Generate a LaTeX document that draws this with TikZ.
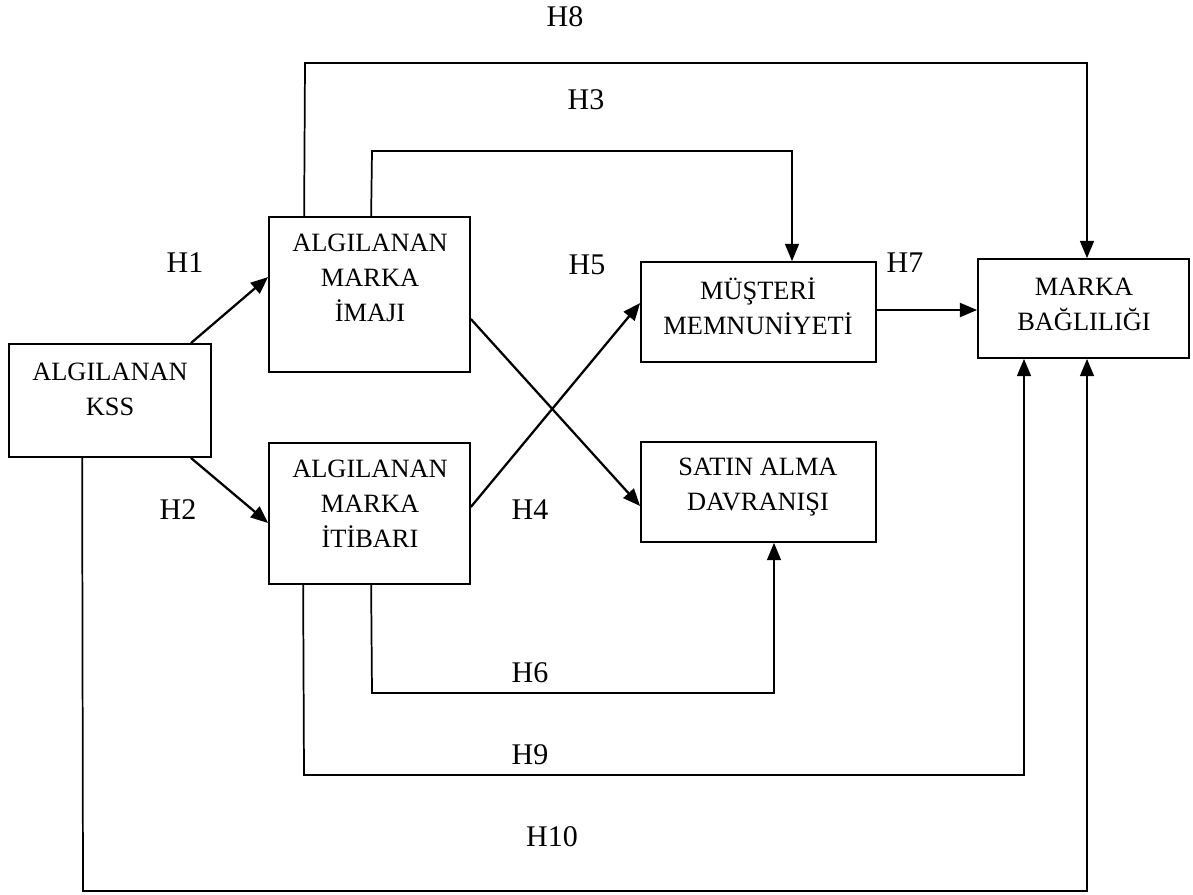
\documentclass[tikz,border=0pt]{standalone}
\usepackage{fontspec}
\setmainfont{Liberation Serif}
\usetikzlibrary{arrows.meta}
\begin{document}
\begin{tikzpicture}[x=0.75pt,y=-0.75pt,
  box/.style={draw,line width=1.3pt,inner sep=0pt},
  boxtext/.style={align=center,font=\fontsize{19.8}{26.2}\selectfont,inner sep=0pt},
  hlabel/.style={font=\fontsize{22.5}{26}\selectfont,inner sep=0pt},
  arr/.style={line width=1.7pt,-{Triangle[length=13pt,width=10.5pt]}},
  garr/.style={line width=1.3pt,-{Triangle[length=13pt,width=10.5pt]}}]
\useasboundingbox (0,0) rectangle (1193,894);

% boxes
\node[box,minimum width=151.5pt,minimum height=84.75pt] (kss) at (110,400.5) {};
\node[box,minimum width=150.75pt,minimum height=116.25pt] (imaj) at (369.5,294.5) {};
\node[box,minimum width=150.75pt,minimum height=105.75pt] (itibar) at (369.5,513.5) {};
\node[box,minimum width=176.25pt,minimum height=75pt] (must) at (758.5,312) {};
\node[box,minimum width=176.25pt,minimum height=75pt] (satin) at (758.5,492) {};
\node[box,minimum width=158.25pt,minimum height=74.25pt] (marka) at (1083.5,308.5) {};

% box texts
\node[boxtext] (kss-t) at (110,389) {ALGILANAN\\KSS};
\node[boxtext] (imaj-t) at (370,278) {ALGILANAN\\MARKA\\İMAJI};
\node[boxtext] (itibar-t) at (370,504) {ALGILANAN\\MARKA\\İTİBARI};
\node[boxtext] (must-t) at (758,306) {MÜŞTERİ\\MEMNUNİYETİ};
\node[boxtext] (satin-t) at (758,487) {SATIN ALMA\\DAVRANIŞI};
\node[boxtext] (marka-t) at (1084,304) {MARKA\\BAĞLILIĞI};

% route corners
\coordinate (h8a) at (305,63);
\coordinate (h8b) at (1087,63);
\coordinate (h3a) at (372,151);
\coordinate (h3b) at (792,151);
\coordinate (h6a) at (372,693);
\coordinate (h6b) at (774,693);
\coordinate (h9a) at (304,775);
\coordinate (h9b) at (1024,775);
\coordinate (h10a) at (83,891);
\coordinate (h10b) at (1087,891);

% direct arrows
\draw[arr] ([xshift=-15.75pt]kss.north east) -- ([yshift=13.1pt]imaj.west);
\draw[arr] ([xshift=-15.75pt]kss.south east) -- ([yshift=-7.1pt]itibar.west);
\draw[arr] ([yshift=-18.4pt]imaj.east) -- ([yshift=-10.5pt]satin.west);
\draw[arr] ([yshift=4.9pt]itibar.east) -- ([yshift=6.75pt]must.west);
\draw[arr] ([yshift=1.5pt]must.east) -- ([yshift=1.5pt]must.east -| marka.west);

% routed arrows
\draw[garr] ([xshift=27pt]imaj.north west) -- (h8a) -- (h8b) -- (h8b |- marka.north);
\draw[garr] ([xshift=77.25pt]imaj.north west) -- (h3a) -- (h3b) -- (h3b |- must.north);
\draw[garr] ([xshift=77.25pt]itibar.south west) -- (h6a) -- (h6b) -- (h6b |- satin.south);
\draw[garr] ([xshift=26.25pt]itibar.south west) -- (h9a) -- (h9b) -- (h9b |- marka.south);
\draw[garr] ([xshift=55.5pt]kss.south west) -- (h10a) -- (h10b) -- (h10b |- marka.south);

% hypothesis labels
\node[hlabel] (H8) at (565,17) {H8};
\node[hlabel] (H3) at (586,100) {H3};
\node[hlabel] (H1) at (185,263) {H1};
\node[hlabel] (H5) at (587,265) {H5};
\node[hlabel] (H7) at (905,263) {H7};
\node[hlabel] (H2) at (178,510) {H2};
\node[hlabel] (H4) at (530,510) {H4};
\node[hlabel] (H6) at (530,673) {H6};
\node[hlabel] (H9) at (530,755) {H9};
\node[hlabel] (H10) at (552,837) {H10};
\end{tikzpicture}
\end{document}
